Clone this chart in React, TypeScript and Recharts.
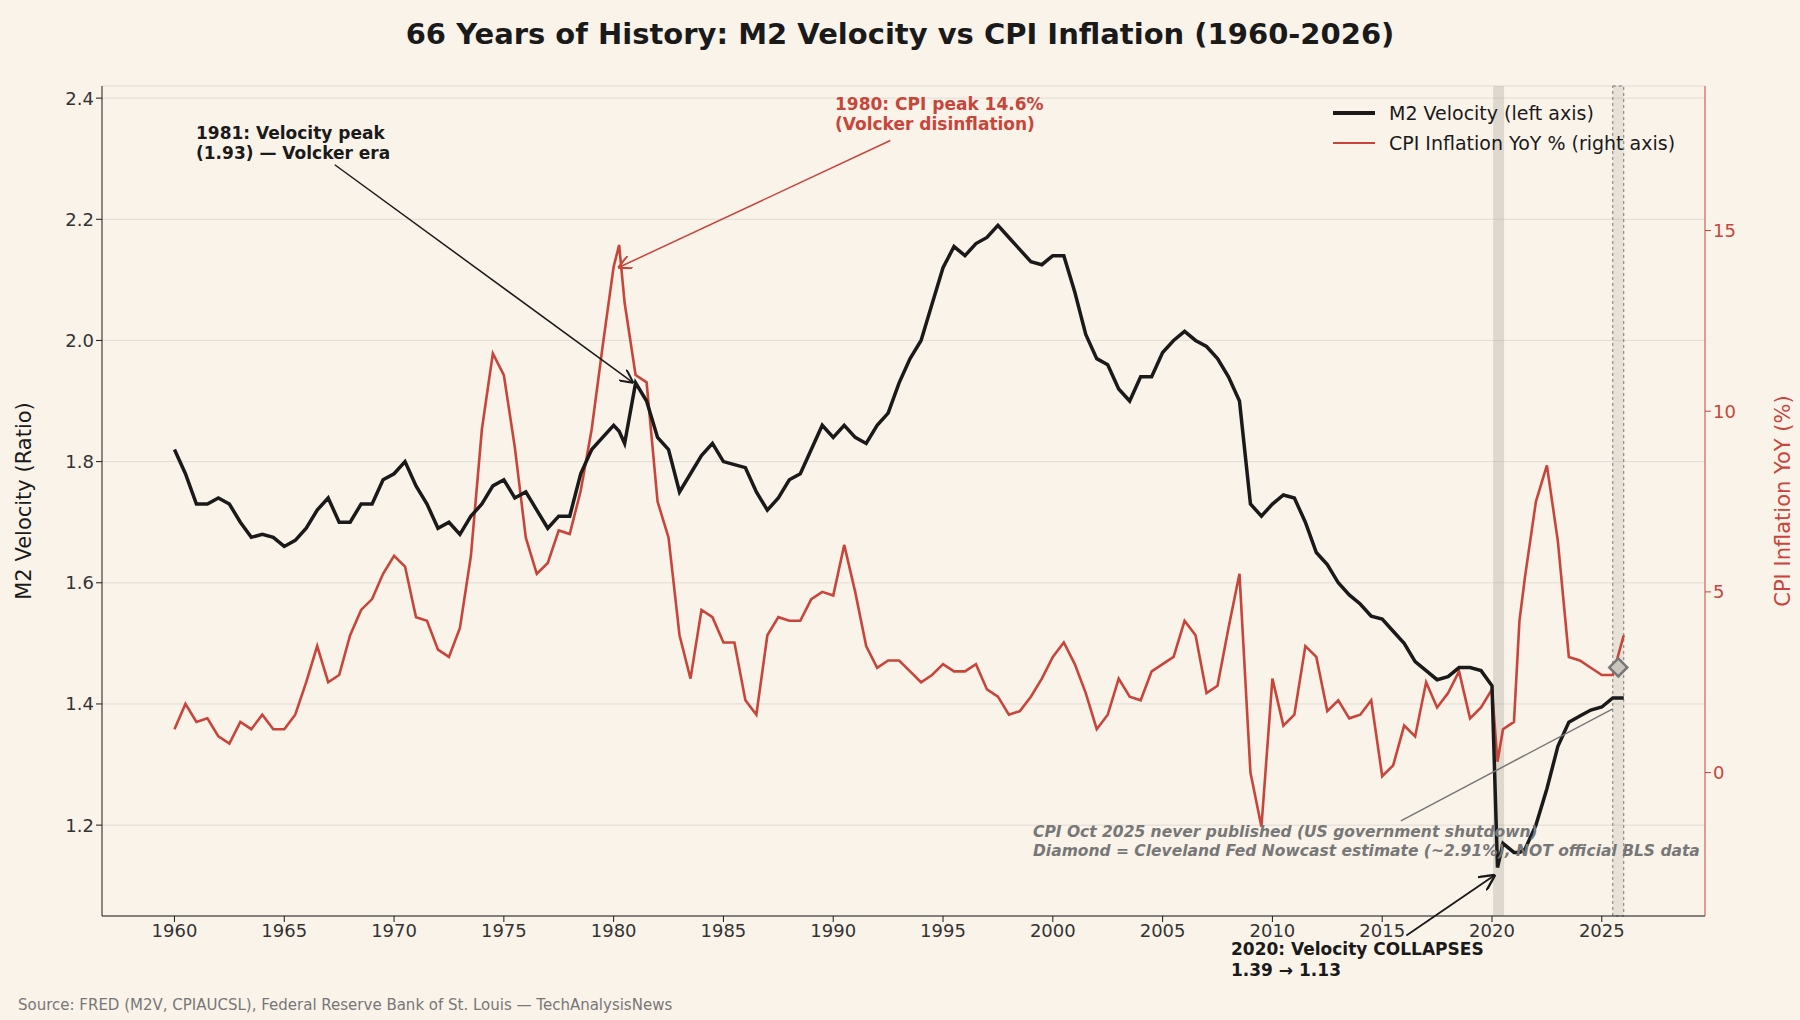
import React from "react";
import {
  ComposedChart,
  Line,
  XAxis,
  YAxis,
  CartesianGrid,
  ReferenceArea,
  ReferenceLine,
  ReferenceDot,
} from "recharts";

const years = [
  1960, 1960.5, 1961, 1961.5, 1962, 1962.5, 1963, 1963.5, 1964, 1964.5, 1965, 1965.5, 1966, 1966.5, 1967, 1967.5,
  1968, 1968.5, 1969, 1969.5, 1970, 1970.5, 1971, 1971.5, 1972, 1972.5, 1973, 1973.5, 1974, 1974.5, 1975, 1975.5,
  1976, 1976.5, 1977, 1977.5, 1978, 1978.5, 1979, 1979.5, 1980, 1980.25, 1980.5, 1981, 1981.5, 1982, 1982.5, 1983,
  1983.5, 1984, 1984.5, 1985, 1985.5, 1986, 1986.5, 1987, 1987.5, 1988, 1988.5, 1989, 1989.5, 1990, 1990.5, 1991,
  1991.5, 1992, 1992.5, 1993, 1993.5, 1994, 1994.5, 1995, 1995.5, 1996, 1996.5, 1997, 1997.5, 1998, 1998.5, 1999,
  1999.5, 2000, 2000.5, 2001, 2001.5, 2002, 2002.5, 2003, 2003.5, 2004, 2004.5, 2005, 2005.5, 2006, 2006.5, 2007,
  2007.5, 2008, 2008.5, 2009, 2009.5, 2010, 2010.5, 2011, 2011.5, 2012, 2012.5, 2013, 2013.5, 2014, 2014.5, 2015,
  2015.5, 2016, 2016.5, 2017, 2017.5, 2018, 2018.5, 2019, 2019.5, 2020, 2020.25, 2020.5, 2021, 2021.25, 2021.5, 2022,
  2022.5, 2023, 2023.5, 2024, 2024.5, 2025, 2025.5, 2026,
];

const velocity = [
  1.82, 1.78, 1.73, 1.73, 1.74, 1.73, 1.7, 1.675, 1.68, 1.675, 1.66, 1.67, 1.69, 1.72, 1.74, 1.7,
  1.7, 1.73, 1.73, 1.77, 1.78, 1.8, 1.76, 1.73, 1.69, 1.7, 1.68, 1.71, 1.73, 1.76, 1.77, 1.74,
  1.75, 1.72, 1.69, 1.71, 1.71, 1.78, 1.82, 1.84, 1.86, 1.85, 1.83, 1.93, 1.9, 1.84, 1.82, 1.75,
  1.78, 1.81, 1.83, 1.8, 1.795, 1.79, 1.75, 1.72, 1.74, 1.77, 1.78, 1.82, 1.86, 1.84, 1.86, 1.84,
  1.83, 1.86, 1.88, 1.93, 1.97, 2.0, 2.06, 2.12, 2.155, 2.14, 2.16, 2.17, 2.19, 2.17, 2.15, 2.13,
  2.125, 2.14, 2.14, 2.08, 2.01, 1.97, 1.96, 1.92, 1.9, 1.94, 1.94, 1.98, 2.0, 2.015, 2.0, 1.99,
  1.97, 1.94, 1.9, 1.73, 1.71, 1.73, 1.745, 1.74, 1.7, 1.65, 1.63, 1.6, 1.58, 1.565, 1.545, 1.54,
  1.52, 1.5, 1.47, 1.455, 1.44, 1.445, 1.46, 1.46, 1.455, 1.43, 1.13, 1.17, 1.155, 1.155, 1.16, 1.2,
  1.26, 1.33, 1.37, 1.38, 1.39, 1.395, 1.41, 1.41,
];

const cpi = [
  1.2, 1.9, 1.4, 1.5, 1.0, 0.8, 1.4, 1.2, 1.6, 1.2, 1.2, 1.6, 2.5, 3.5, 2.5, 2.7,
  3.8, 4.5, 4.8, 5.5, 6.0, 5.7, 4.3, 4.2, 3.4, 3.2, 4.0, 6.0, 9.5, 11.6, 11.0, 9.0,
  6.5, 5.5, 5.8, 6.7, 6.6, 7.8, 9.5, 11.8, 14.0, 14.6, 13.0, 11.0, 10.8, 7.5, 6.5, 3.8,
  2.6, 4.5, 4.3, 3.6, 3.6, 2.0, 1.6, 3.8, 4.3, 4.2, 4.2, 4.8, 5.0, 4.9, 6.3, 5.0,
  3.5, 2.9, 3.1, 3.1, 2.8, 2.5, 2.7, 3.0, 2.8, 2.8, 3.0, 2.3, 2.1, 1.6, 1.7, 2.1,
  2.6, 3.2, 3.6, 3.0, 2.2, 1.2, 1.6, 2.6, 2.1, 2.0, 2.8, 3.0, 3.2, 4.2, 3.8, 2.2,
  2.4, 4.0, 5.5, 0.0, -1.5, 2.6, 1.3, 1.6, 3.5, 3.2, 1.7, 2.0, 1.5, 1.6, 2.0, -0.1,
  0.2, 1.3, 1.0, 2.5, 1.8, 2.2, 2.8, 1.5, 1.8, 2.3, 0.3, 1.2, 1.4, 4.2, 5.4, 7.5,
  8.5, 6.4, 3.2, 3.1, 2.9, 2.7, 2.7, 3.8,
];

const yearTicks = [1960, 1965, 1970, 1975, 1980, 1985, 1990, 1995, 2000, 2005, 2010, 2015, 2020, 2025];
const velocityTicks = [1.2, 1.4, 1.6, 1.8, 2.0, 2.2, 2.4];
const cpiTicks = [0, 5, 10, 15];

const nowcast = { year: 2025.75, cpi: 2.91 };

const data = years.map((year, i) => ({ year, v: velocity[i], c: cpi[i] }));

const BG = "#faf3ea";
const RED = "#c8453a";
const FONT = "DejaVu Sans, sans-serif";

export default function App() {
  return (
    <div style={{ position: "fixed", left: 0, top: 0, width: 1800, height: 1020, background: BG, fontFamily: FONT }}>
      <svg width="0" height="0" style={{ position: "absolute" }}>
        <defs>
          <marker id="arrK" viewBox="0 0 10 10" refX="10" refY="5" markerWidth="9" markerHeight="9" orient="auto">
            <path d="M0,0 L10,5 L0,10" fill="none" stroke="#1a1a1a" strokeWidth="1.5" />
          </marker>
          <marker id="arrR" viewBox="0 0 10 10" refX="10" refY="5" markerWidth="9" markerHeight="9" orient="auto">
            <path d="M0,0 L10,5 L0,10" fill="none" stroke={RED} strokeWidth="1.5" />
          </marker>
        </defs>
      </svg>
      <div style={{ position: "absolute", top: 17, width: 1800, textAlign: "center", fontSize: 29, fontWeight: "bold", color: "#1a1a1a" }}>
        66 Years of History: M2 Velocity vs CPI Inflation (1960-2026)
      </div>
      <ComposedChart width={1800} height={1020} data={data} margin={{ top: 86, right: 15, bottom: 74, left: 22 }}>
        <CartesianGrid horizontal vertical={false} stroke="#e0dcd5" yAxisId="L" />
        <XAxis
          dataKey="year"
          type="number"
          domain={[1956.7, 2029.7]}
          ticks={yearTicks}
          allowDataOverflow
          tick={{ fill: "#333", fontSize: 18, fontFamily: FONT }}
          stroke="#1a1a1a"
          height={30}
        />
        <YAxis
          yAxisId="L"
          domain={[1.05, 2.42]}
          ticks={velocityTicks}
          tickFormatter={(v: number) => v.toFixed(1)}
          allowDataOverflow
          tick={{ fill: "#333", fontSize: 18, fontFamily: FONT }}
          stroke="#1a1a1a"
          width={80}
          label={{ value: "M2 Velocity (Ratio)", angle: -90, position: "insideLeft", offset: 2, style: { textAnchor: "middle", fontSize: 21, fill: "#1a1a1a", fontFamily: FONT } }}
        />
        <YAxis
          yAxisId="R"
          orientation="right"
          domain={[-3.97, 19]}
          ticks={cpiTicks}
          allowDataOverflow
          tick={{ fill: RED, fontSize: 18, fontFamily: FONT }}
          stroke={RED}
          width={80}
          label={{ value: "CPI Inflation YoY (%)", angle: -90, position: "insideRight", offset: 2, style: { textAnchor: "middle", fontSize: 21, fill: RED, fontFamily: FONT } }}
        />
        <ReferenceArea yAxisId="L" x1={2020.05} x2={2020.55} fill="#a09a92" fillOpacity={0.3} />
        <ReferenceArea yAxisId="L" x1={2025.5} x2={2026.0} fill="#a09a92" fillOpacity={0.2} stroke="#777" strokeDasharray="3 3" />
        <Line yAxisId="R" dataKey="c" stroke={RED} strokeWidth={2.6} dot={false} isAnimationActive={false} />
        <Line yAxisId="L" dataKey="v" stroke="#1a1a1a" strokeWidth={3.5} dot={false} isAnimationActive={false} />
        <ReferenceDot yAxisId="R" x={nowcast.year} y={nowcast.cpi} r={0} shape={(p: any) => (
          <path d={`M${p.cx},${p.cy - 9} L${p.cx + 9},${p.cy} L${p.cx},${p.cy + 9} L${p.cx - 9},${p.cy} Z`} fill="#c9c4bd" stroke="#777" strokeWidth={2.5} />
        )} />
        <ReferenceLine yAxisId="L" ifOverflow="visible" segment={[{ x: 1967.3, y: 2.29 }, { x: 1980.9, y: 1.93 }]} stroke="#1a1a1a" strokeWidth={1.5} markerEnd="url(#arrK)" />
        <ReferenceLine yAxisId="L" ifOverflow="visible" segment={[{ x: 1992.6, y: 2.33 }, { x: 1980.2, y: 2.12 }]} stroke={RED} strokeWidth={1.5} markerEnd="url(#arrR)" />
        <ReferenceLine yAxisId="L" ifOverflow="visible" segment={[{ x: 2016.1, y: 1.018 }, { x: 2020.15, y: 1.118 }]} stroke="#1a1a1a" strokeWidth={1.8} markerEnd="url(#arrK)" />
        <ReferenceLine yAxisId="L" ifOverflow="visible" segment={[{ x: 2015.85, y: 1.207 }, { x: 2025.5, y: 1.392 }]} stroke="#777" strokeWidth={1.5} />
      </ComposedChart>
      <div style={{ position: "absolute", left: 196, top: 123, fontSize: 17, fontWeight: "bold", color: "#1a1a1a", lineHeight: "20px" }}>
        1981: Velocity peak<br />(1.93) — Volcker era
      </div>
      <div style={{ position: "absolute", left: 835, top: 94, fontSize: 17, fontWeight: "bold", color: RED, lineHeight: "20px" }}>
        1980: CPI peak 14.6%<br />(Volcker disinflation)
      </div>
      <div style={{ position: "absolute", left: 1231, top: 939, fontSize: 17, fontWeight: "bold", color: "#1a1a1a", lineHeight: "21px" }}>
        2020: Velocity COLLAPSES<br />1.39 → 1.13
      </div>
      <div style={{ position: "absolute", left: 1033, top: 823, fontSize: 15.5, fontWeight: "bold", fontStyle: "italic", color: "#777", lineHeight: "19px" }}>
        CPI Oct 2025 never published (US government shutdown)<br />Diamond = Cleveland Fed Nowcast estimate (~2.91%), NOT official BLS data
      </div>
      <div style={{ position: "absolute", left: 1333, top: 98, fontSize: 19, color: "#1a1a1a", lineHeight: "30px" }}>
        <div style={{ display: "flex", alignItems: "center" }}>
          <span style={{ display: "inline-block", width: 42, height: 3.5, background: "#1a1a1a", marginRight: 14 }} />M2 Velocity (left axis)
        </div>
        <div style={{ display: "flex", alignItems: "center" }}>
          <span style={{ display: "inline-block", width: 42, height: 2.5, background: RED, marginRight: 14 }} />CPI Inflation YoY % (right axis)
        </div>
      </div>
      <div style={{ position: "absolute", left: 18, top: 996, fontSize: 15, color: "#777" }}>
        Source: FRED (M2V, CPIAUCSL), Federal Reserve Bank of St. Louis — TechAnalysisNews
      </div>
    </div>
  );
}
